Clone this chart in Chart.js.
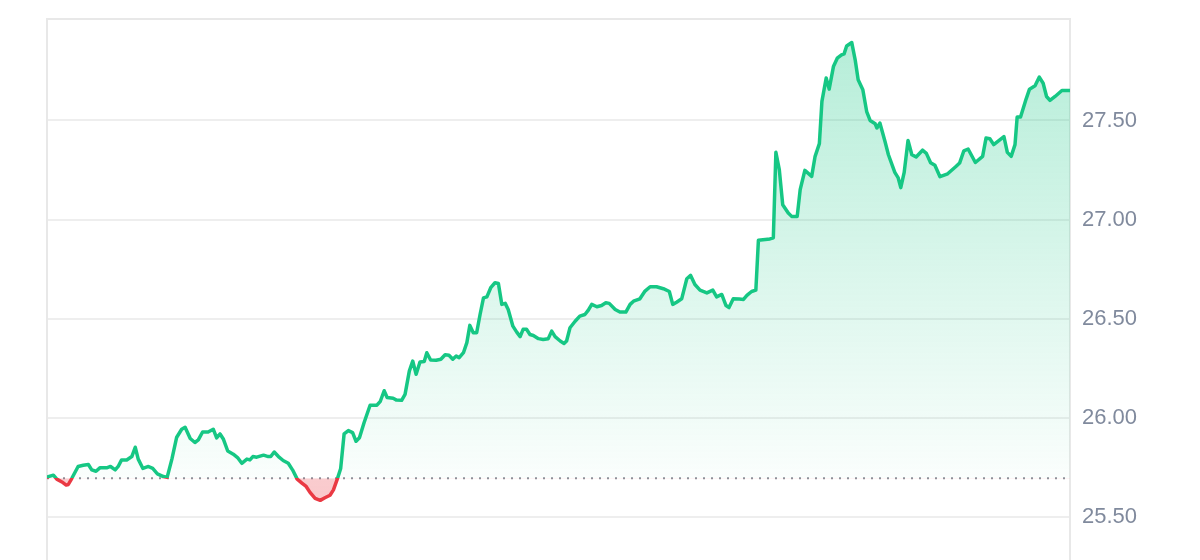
<!DOCTYPE html>
<html lang="en">
<head>
    <meta charset="UTF-8">
    <title>Price Chart</title>
    <script src="https://cdn.jsdelivr.net/npm/chart.js"></script>
    <style>
        body { margin: 0; background: #fff; overflow: hidden; }
        .wrap { width: 1200px; height: 560px; }
    </style>
</head>
<body>
    <div class="wrap"><canvas id="priceChart"></canvas></div>
    <script>
        // hours since open
        const hours = [
            0, 0.15, 0.23, 0.35, 0.45, 0.50, 0.58, 0.73, 0.85, 0.97, 1.05, 1.15, 1.24, 1.40, 1.49, 1.60, 1.67, 1.75, 1.87, 1.99,
            2.07, 2.14, 2.25, 2.38, 2.48, 2.59, 2.73, 2.82, 2.93, 3.04, 3.16, 3.24, 3.36, 3.47, 3.55, 3.65, 3.78, 3.90, 3.98, 4.06,
            4.14, 4.24, 4.37, 4.47, 4.57, 4.69, 4.76, 4.83, 4.92, 5.08, 5.19, 5.25, 5.33, 5.43, 5.54, 5.66, 5.76, 5.87, 5.98, 6.08,
            6.17, 6.29, 6.41, 6.52, 6.64, 6.72, 6.81, 6.89, 6.97, 7.07, 7.17, 7.25, 7.33, 7.44, 7.58, 7.74, 7.82, 7.91, 7.98, 8.12,
            8.20, 8.32, 8.40, 8.50, 8.58, 8.66, 8.75, 8.85, 8.91, 9.00, 9.13, 9.24, 9.34, 9.43, 9.52, 9.60, 9.67, 9.77, 9.85, 9.92,
            10.00, 10.08, 10.16, 10.24, 10.32, 10.41, 10.51, 10.59, 10.67, 10.75, 10.82, 10.93, 11.02, 11.10, 11.17, 11.25, 11.33, 11.41, 11.53, 11.64,
            11.76, 11.84, 11.92, 12.04, 12.13, 12.19, 12.27, 12.39, 12.50, 12.62, 12.70, 12.78, 12.90, 13.01, 13.11, 13.19, 13.33, 13.44, 13.58, 13.68,
            13.76, 13.91, 14.03, 14.15, 14.30, 14.46, 14.60, 14.68, 14.77, 14.89, 15.01, 15.10, 15.20, 15.32, 15.48, 15.62, 15.71, 15.83, 15.93, 16.00,
            16.10, 16.24, 16.34, 16.42, 16.53, 16.63, 16.69, 16.96, 17.04, 17.10, 17.18, 17.26, 17.39, 17.47, 17.60, 17.67, 17.78, 17.94, 18.02, 18.12,
            18.18, 18.28, 18.35, 18.45, 18.54, 18.64, 18.70, 18.76, 18.88, 18.96, 19.03, 19.14, 19.23, 19.31, 19.43, 19.47, 19.54, 19.66, 19.74, 19.89,
            19.97, 20.03, 20.11, 20.20, 20.29, 20.39, 20.54, 20.63, 20.73, 20.83, 20.95, 21.13, 21.33, 21.41, 21.51, 21.61, 21.78, 21.95, 22.03, 22.12,
            22.21, 22.45, 22.53, 22.62, 22.71, 22.76, 22.84, 22.97, 23.05, 23.18, 23.28, 23.37, 23.45, 23.53, 23.65, 23.81, 24.00
        ];
        const prices = [
            25.700, 25.710, 25.690, 25.676, 25.660, 25.663, 25.693, 25.754, 25.760, 25.764, 25.737, 25.730, 25.747, 25.747, 25.754, 25.737, 25.754, 25.787, 25.787, 25.804,
            25.851, 25.791, 25.744, 25.754, 25.744, 25.717, 25.703, 25.700, 25.791, 25.900, 25.942, 25.952, 25.895, 25.875, 25.888, 25.928, 25.928, 25.942, 25.898, 25.918,
            25.891, 25.832, 25.816, 25.799, 25.770, 25.791, 25.787, 25.804, 25.801, 25.811, 25.804, 25.804, 25.827, 25.804, 25.784, 25.770, 25.737, 25.690, 25.670, 25.653,
            25.623, 25.593, 25.583, 25.596, 25.609, 25.636, 25.690, 25.744, 25.918, 25.935, 25.925, 25.881, 25.899, 25.976, 26.063, 26.063, 26.083, 26.136, 26.102, 26.098,
            26.089, 26.088, 26.118, 26.235, 26.286, 26.219, 26.281, 26.284, 26.328, 26.291, 26.290, 26.295, 26.318, 26.315, 26.295, 26.311, 26.303, 26.328, 26.379, 26.466,
            26.429, 26.429, 26.521, 26.605, 26.610, 26.656, 26.681, 26.677, 26.572, 26.577, 26.546, 26.462, 26.432, 26.409, 26.446, 26.446, 26.420, 26.415, 26.399, 26.395,
            26.399, 26.437, 26.409, 26.387, 26.375, 26.387, 26.454, 26.487, 26.513, 26.521, 26.543, 26.572, 26.560, 26.566, 26.580, 26.577, 26.546, 26.533, 26.533, 26.572,
            26.588, 26.600, 26.639, 26.661, 26.661, 26.651, 26.637, 26.572, 26.583, 26.600, 26.701, 26.718, 26.672, 26.644, 26.630, 26.644, 26.610, 26.622, 26.566, 26.556,
            26.600, 26.599, 26.597, 26.617, 26.637, 26.644, 26.895, 26.902, 26.908, 27.339, 27.252, 27.075, 27.033, 27.016, 27.016, 27.151, 27.248, 27.218, 27.319, 27.383,
            27.596, 27.714, 27.658, 27.772, 27.814, 27.831, 27.836, 27.876, 27.893, 27.806, 27.705, 27.655, 27.545, 27.500, 27.483, 27.462, 27.487, 27.394, 27.327, 27.238,
            27.210, 27.161, 27.238, 27.399, 27.327, 27.316, 27.350, 27.334, 27.287, 27.274, 27.216, 27.231, 27.269, 27.285, 27.347, 27.356, 27.288, 27.319, 27.411, 27.408,
            27.378, 27.419, 27.339, 27.319, 27.378, 27.517, 27.517, 27.608, 27.658, 27.675, 27.719, 27.688, 27.621, 27.601, 27.621, 27.651, 27.651
        ];
        const openPrice = 25.695;
        const yTicks = [25.5, 26, 26.5, 27, 27.5];
        const yMin = 25.282;
        const yMax = 28.012;

        const green = '#16c784';
        const red = '#ea3943';

        function basePixel(chart) {
            return chart.scales.y.getPixelForValue(openPrice);
        }

        // line is green above the open price and red below it
        function lineColor(context) {
            const chart = context.chart;
            const area = chart.chartArea;
            if (!area) return green;
            const stop = Math.min(1, Math.max(0, (basePixel(chart) - area.top) / (area.bottom - area.top)));
            const g = chart.ctx.createLinearGradient(0, area.top, 0, area.bottom);
            g.addColorStop(0, green);
            g.addColorStop(stop, green);
            g.addColorStop(stop, red);
            g.addColorStop(1, red);
            return g;
        }

        function priceFill(context) {
            const chart = context.chart;
            const area = chart.chartArea;
            if (!area) {
                return { target: { value: openPrice }, above: 'rgba(22,199,132,0.15)', below: 'rgba(234,57,67,0.28)' };
            }
            const base = basePixel(chart);
            const up = chart.ctx.createLinearGradient(0, area.top, 0, base);
            up.addColorStop(0, 'rgba(22,199,132,0.33)');
            up.addColorStop(1, 'rgba(22,199,132,0.02)');
            const down = chart.ctx.createLinearGradient(0, base, 0, area.bottom);
            down.addColorStop(0, 'rgba(234,57,67,0.26)');
            down.addColorStop(1, 'rgba(234,57,67,0.32)');
            return { target: { value: openPrice }, above: up, below: down };
        }

        const framePlugin = {
            id: 'frame',
            beforeDatasetsDraw(chart) {
                const { ctx, chartArea: a } = chart;
                ctx.save();
                ctx.strokeStyle = '#e8e8e8';
                ctx.lineWidth = 2;
                ctx.beginPath();
                ctx.moveTo(a.left, a.bottom);
                ctx.lineTo(a.left, a.top);
                ctx.lineTo(a.right, a.top);
                ctx.lineTo(a.right, a.bottom);
                ctx.stroke();
                ctx.restore();
            }
        };

        new Chart(document.getElementById('priceChart'), {
            type: 'line',
            data: {
                datasets: [
                    {
                        data: hours.map((h, i) => ({ x: h, y: prices[i] })),
                        borderColor: lineColor,
                        borderWidth: 3.5,
                        borderJoinStyle: 'round',
                        borderCapStyle: 'round',
                        pointRadius: 0,
                        tension: 0,
                        fill: priceFill
                    },
                    {
                        data: [{ x: hours[0], y: openPrice }, { x: hours[hours.length - 1], y: openPrice }],
                        borderColor: '#8d929c',
                        borderWidth: 2,
                        borderDash: [2, 6],
                        pointRadius: 0,
                        fill: false
                    }
                ]
            },
            options: {
                responsive: true,
                maintainAspectRatio: false,
                animation: false,
                layout: { padding: { left: 47, top: 19, right: 0, bottom: 0 } },
                plugins: {
                    legend: { display: false },
                    tooltip: { enabled: false }
                },
                scales: {
                    x: { type: 'linear', min: 0, max: 24, display: false },
                    y: {
                        position: 'right',
                        min: yMin,
                        max: yMax,
                        afterBuildTicks: s => { s.ticks = yTicks.map(v => ({ value: v })); },
                        afterFit: s => {
                            s.width = 130;
                            s.paddingTop = 0;
                            s.paddingBottom = 0;
                        },
                        border: { display: false },
                        grid: { color: '#eeeeee', lineWidth: 2, drawTicks: false },
                        ticks: {
                            padding: 12,
                            color: '#808a9d',
                            font: { family: '"Liberation Sans", Arial, sans-serif', size: 22 },
                            callback: v => v.toFixed(2)
                        }
                    }
                }
            },
            plugins: [framePlugin]
        });
    </script>
</body>
</html>
